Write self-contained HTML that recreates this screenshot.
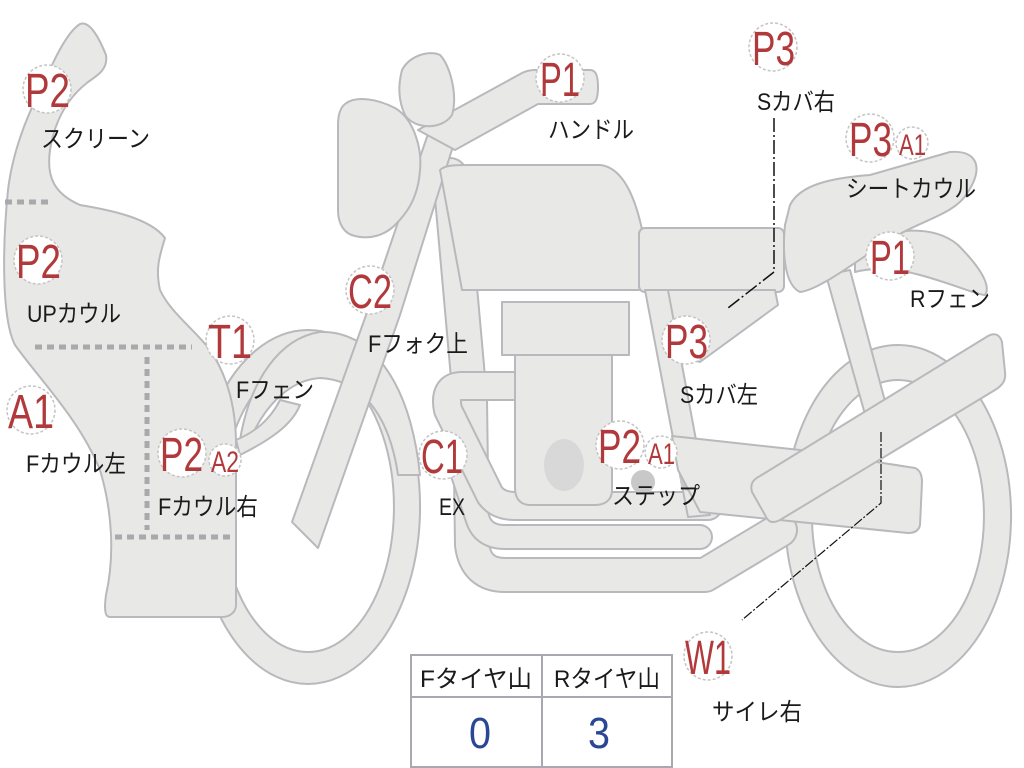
<!DOCTYPE html>
<html><head><meta charset="utf-8"><style>
html,body{margin:0;padding:0;background:#fff;width:1024px;height:768px;overflow:hidden}
svg{display:block}
.s{fill:#e8e8e6;stroke:#b9b9bd;stroke-width:2;stroke-linejoin:round}
.to{fill:none;stroke:#b9b9bd;stroke-linecap:round;stroke-linejoin:round}
.ti{fill:none;stroke:#e8e8e6;stroke-linecap:round;stroke-linejoin:round}
.b{fill:#fff;stroke:#c4c4c4;stroke-width:1.5;stroke-dasharray:3 2}
.r{fill:#b2393b;font-family:"Liberation Sans",sans-serif}
.k{fill:#1a1a1a;font-family:"Liberation Sans","Noto Sans CJK JP",sans-serif;font-size:24px}
.d{stroke:#a9a9ad;stroke-width:5;stroke-dasharray:7 5;fill:none}
</style></head><body>
<svg width="1024" height="768" viewBox="0 0 1024 768" xmlns="http://www.w3.org/2000/svg">
<!-- wheels -->
<path class="s" fill-rule="evenodd" d="M308 330 a112 177 0 1 0 0.1 0Z M308 362 a86 145 0 1 1 -0.1 0Z"/>
<path class="s" fill-rule="evenodd" d="M898 345 a113 171 0 1 0 0.1 0Z M898 380 a86 136 0 1 1 -0.1 0Z"/>
<!-- front fender -->
<path class="s" d="M240 440 C250 380 280 338 320 332 C370 330 410 380 420 475 L398 475 C390 420 365 380 320 378 C290 380 265 405 250 440Z"/>
<!-- cowl -->
<path class="s" d="M80 24 C90 20 100 40 106 55 C108 68 100 74 88 82 C70 96 55 118 50 150 C46 178 55 194 80 205 C110 210 150 218 165 238 C160 255 155 268 160 290 C170 312 195 330 210 350 C225 372 235 400 236 440 L236 605 C236 612 230 617 222 617 L110 617 C105 617 104 610 106 595 C115 555 112 510 100 470 C80 420 40 380 15 345 C2 320 2 250 8 190 C14 140 35 100 52 65 C60 48 70 30 80 24Z"/>
<path class="s" d="M236 440 C255 432 270 420 280 400 L300 405 C292 425 270 440 240 455Z"/>
<path class="d" d="M5 202 H50 M35 347 H192 M147 357 V530 M115 537 H233"/>
<!-- frame tubes -->
<g>
<path class="to" stroke-width="36" d="M450 175 L470 400 L472 545 Q476 575 505 575 L705 575 L780 530"/>
<path class="ti" stroke-width="32" d="M450 175 L470 400 L472 545 Q476 575 505 575 L705 575 L780 530"/>
<path class="to" stroke-width="26" d="M455 450 L478 520 Q484 537 505 537 L700 537"/>
<path class="ti" stroke-width="22" d="M455 450 L478 520 Q484 537 505 537 L700 537"/>
<path class="to" stroke-width="30" d="M520 386 L462 386 Q443 386 448 410 L490 495 Q498 506 515 506 L708 506"/>
<path class="ti" stroke-width="26" d="M520 386 L462 386 Q443 386 448 410 L490 495 Q498 506 515 506 L708 506"/>
</g>
<!-- fork -->
<path class="s" d="M292 522 L318 548 L400 315 L455 140 L430 128 L375 290Z"/>
<!-- tank -->
<path class="s" d="M440 170 C445 165 455 165 470 165 L600 165 C630 168 645 220 650 290 L462 290Z"/>
<!-- seat -->
<rect class="s" x="639" y="228" width="145" height="64" rx="6"/>
<!-- side cover -->
<path class="s" d="M668 290 L775 290 L778 305 L700 362 L668 352Z"/>
<!-- rear frame -->
<path class="s" d="M645 290 L668 290 L710 515 L688 517Z"/>
<path class="s" d="M826 275 L850 270 L890 420 L868 425Z"/>
<!-- engine -->
<path class="s" d="M515 355 L612 355 L612 490 C612 500 605 505 595 505 L530 505 C520 505 515 498 515 488Z"/>
<rect class="s" x="502" y="302" width="127" height="53"/>
<ellipse cx="564" cy="465" rx="20" ry="26" fill="#d8d8d8"/>
<circle cx="643" cy="482" r="12" fill="#c8c8c8"/><circle cx="692" cy="480" r="12" fill="#c8c8c8"/>
<!-- step / swingarm -->
<path class="s" d="M672 436 L800 450 L915 468 C920 470 922 475 922 482 L920 525 C919 530 915 533 908 533 L700 512 L678 470Z"/>
<!-- muffler -->
<path class="s" d="M752 492 C750 485 752 480 760 476 L988 336 C995 332 1000 335 1002 342 L1005 372 C1006 380 1003 385 995 390 L780 520 C772 524 768 522 765 515Z"/>
<!-- rear fender & seat cowl -->
<path class="s" d="M855 250 C890 225 935 225 958 245 C978 265 992 285 985 295 C978 295 950 283 920 275 C895 268 870 268 855 272Z"/>
<path class="s" d="M790 205 C800 185 830 178 870 175 L950 152 C975 150 985 165 968 192 C955 215 920 220 890 240 C860 258 820 290 800 292 C785 285 782 255 785 225Z"/>
<!-- handlebar, meter, headlight -->
<path class="s" d="M418 130 L522 73 C526 71 530 70 535 70 L590 70 C596 70 598 76 598 87 C598 98 596 104 590 104 L538 104 L455 150Z"/>
<path class="s" d="M402 70 C410 55 430 50 440 55 C450 65 458 95 452 115 C442 130 415 130 405 115 C398 100 398 85 402 70Z"/>
<path class="s" d="M345 104 C355 96 375 98 395 108 C415 120 422 150 420 170 C418 200 405 215 395 225 C385 235 370 240 355 236 C345 234 338 225 338 210 L338 125 C338 115 340 108 345 104Z"/>
<!-- leader lines -->
<path d="M774 118 V272 L728 308" stroke="#111" stroke-width="1.5" fill="none" stroke-dasharray="14 3 2 3"/>
<path d="M881 432 V503 L742 620" stroke="#111" stroke-width="1.2" fill="none" stroke-dasharray="10 2 2 2"/>
<!-- badges -->
<g>
<circle class="b" cx="47" cy="89" r="24"/><text class="r" x="25" y="107" font-size="48" textLength="45" lengthAdjust="spacingAndGlyphs">P2</text>
<circle class="b" cx="38" cy="260" r="24"/><text class="r" x="16" y="278" font-size="48" textLength="45" lengthAdjust="spacingAndGlyphs">P2</text>
<circle class="b" cx="31" cy="410" r="24"/><text class="r" x="8" y="428" font-size="48" textLength="46" lengthAdjust="spacingAndGlyphs">A1</text>
<circle class="b" cx="230" cy="340" r="24"/><text class="r" x="208" y="358" font-size="48" textLength="44" lengthAdjust="spacingAndGlyphs">T1</text>
<circle class="b" cx="182" cy="453" r="24"/><text class="r" x="160" y="471" font-size="48" textLength="43" lengthAdjust="spacingAndGlyphs">P2</text>
<circle class="b" cx="225" cy="460" r="16"/><text class="r" x="211" y="472" font-size="30" textLength="28" lengthAdjust="spacingAndGlyphs">A2</text>
<circle class="b" cx="370" cy="290" r="24"/><text class="r" x="348" y="308" font-size="48" textLength="44" lengthAdjust="spacingAndGlyphs">C2</text>
<circle class="b" cx="443" cy="455" r="24"/><text class="r" x="421" y="473" font-size="48" textLength="42" lengthAdjust="spacingAndGlyphs">C1</text>
<circle class="b" cx="560" cy="78" r="24"/><text class="r" x="540" y="96" font-size="48" textLength="40" lengthAdjust="spacingAndGlyphs">P1</text>
<circle class="b" cx="773" cy="47" r="24"/><text class="r" x="752" y="65" font-size="48" textLength="43" lengthAdjust="spacingAndGlyphs">P3</text>
<circle class="b" cx="870" cy="138" r="24"/><text class="r" x="849" y="156" font-size="48" textLength="43" lengthAdjust="spacingAndGlyphs">P3</text>
<circle class="b" cx="912" cy="143" r="16"/><text class="r" x="899" y="155" font-size="30" textLength="27" lengthAdjust="spacingAndGlyphs">A1</text>
<circle class="b" cx="890" cy="256" r="24"/><text class="r" x="870" y="274" font-size="48" textLength="40" lengthAdjust="spacingAndGlyphs">P1</text>
<circle class="b" cx="686" cy="340" r="24"/><text class="r" x="665" y="358" font-size="48" textLength="43" lengthAdjust="spacingAndGlyphs">P3</text>
<circle class="b" cx="620" cy="445" r="24"/><text class="r" x="598" y="463" font-size="48" textLength="43" lengthAdjust="spacingAndGlyphs">P2</text>
<circle class="b" cx="661" cy="452" r="16"/><text class="r" x="648" y="464" font-size="30" textLength="27" lengthAdjust="spacingAndGlyphs">A1</text>
<circle class="b" cx="708" cy="656" r="24"/><text class="r" x="685" y="674" font-size="48" textLength="46" lengthAdjust="spacingAndGlyphs">W1</text>
</g>
<!-- labels -->
<g class="k">
<text x="41" y="147" textLength="109" lengthAdjust="spacingAndGlyphs">スクリーン</text>
<text x="27" y="322" textLength="94" lengthAdjust="spacingAndGlyphs">UPカウル</text>
<text x="26" y="472" textLength="100" lengthAdjust="spacingAndGlyphs">Fカウル左</text>
<text x="236" y="398" textLength="78" lengthAdjust="spacingAndGlyphs">Fフェン</text>
<text x="158" y="515" textLength="100" lengthAdjust="spacingAndGlyphs">Fカウル右</text>
<text x="368" y="352" textLength="100" lengthAdjust="spacingAndGlyphs">Fフォク上</text>
<text x="439" y="515" textLength="26" lengthAdjust="spacingAndGlyphs">EX</text>
<text x="548" y="138" textLength="86" lengthAdjust="spacingAndGlyphs">ハンドル</text>
<text x="757" y="110" textLength="78" lengthAdjust="spacingAndGlyphs">Sカバ右</text>
<text x="846" y="197" textLength="130" lengthAdjust="spacingAndGlyphs">シートカウル</text>
<text x="910" y="307" textLength="80" lengthAdjust="spacingAndGlyphs">Rフェン</text>
<text x="680" y="403" textLength="78" lengthAdjust="spacingAndGlyphs">Sカバ左</text>
<text x="612" y="504" textLength="88" lengthAdjust="spacingAndGlyphs">ステップ</text>
<text x="712" y="720" textLength="90" lengthAdjust="spacingAndGlyphs">サイレ右</text>
</g>
<!-- table -->
<rect x="411" y="655" width="261" height="112" fill="#fff" stroke="#a8a8b0" stroke-width="2"/>
<line x1="411" y1="697" x2="672" y2="697" stroke="#a8a8b0" stroke-width="2"/>
<line x1="542" y1="655" x2="542" y2="767" stroke="#a8a8b0" stroke-width="2"/>
<text class="k" x="420" y="687" textLength="112" lengthAdjust="spacingAndGlyphs">Fタイヤ山</text>
<text class="k" x="554" y="687" textLength="106" lengthAdjust="spacingAndGlyphs">Rタイヤ山</text>
<text x="469" y="748" font-size="44" fill="#2a4795" font-family="Liberation Sans,sans-serif" textLength="22" lengthAdjust="spacingAndGlyphs">0</text>
<text x="588" y="748" font-size="44" fill="#2a4795" font-family="Liberation Sans,sans-serif" textLength="22" lengthAdjust="spacingAndGlyphs">3</text>
</svg>
</body></html>
